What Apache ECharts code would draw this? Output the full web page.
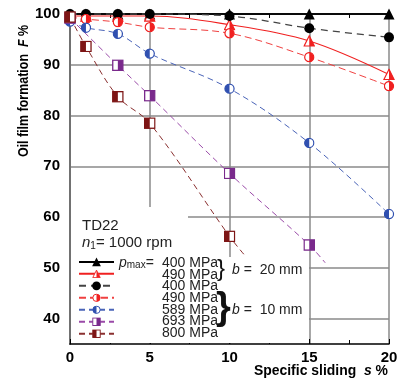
<!DOCTYPE html>
<html><head><meta charset="utf-8">
<script src="https://cdn.jsdelivr.net/npm/echarts@6/dist/echarts.min.js"></script>
<style>html,body{margin:0;padding:0;background:#fff}#c{width:403px;height:392px}</style>
</head><body><div id="c"></div>
<script>
// ---- data ----
const xTicks = [0, 5, 10, 15, 20];
const yTicks = [40, 50, 60, 70, 80, 90, 100];
const sAll = [0, 1, 3, 5, 10, 15, 20];
const blackTri400_b20 = [100, 100, 100, 100, 100, 100, 100];
const redTri490_b20 = [99.6, 99.6, 99.6, 99.6, 97.9, 94.7, 88.1];
const blackCirc400_b10 = [100, 100, 100, 100, 99.6, 97.2, 95.4];
const redCirc490_b10 = [99.4, 99.0, 98.4, 97.4, 96.2, 91.5, 85.8];
const blueCirc589_b10 = [98.5, 97.3, 96.1, 92.2, 85.3, 74.6, 60.6];
const sPurple = [0, 3, 5, 10, 15];
const purpleSq693_b10 = [99.2, 89.9, 83.9, 68.6, 54.5];
const purpleFitEnd = [16, 51.0];
const sDarkRed = [0, 1, 3, 5, 10];
const darkRedSq800_b10 = [99.4, 93.6, 83.7, 78.5, 56.2];
const darkRedFitEnd = [11, 52.3];
const legendLabels = ['400 MPa', '490 MPa', '400 MPa', '490 MPa', '589 MPa', '693 MPa', '800 MPa'];

const FONT = 'Liberation Sans';
function halfSym(shape, color, side) {
  let base, half;
  if (shape === 'circle') {
    base = `<circle cx="10" cy="10" r="8.3" fill="white" stroke="${color}" stroke-width="2.2"/>`;
    half = side === 'right'
      ? `<path d="M10 1.7 A8.3 8.3 0 0 1 10 18.3 Z" fill="${color}"/>`
      : `<path d="M10 1.7 A8.3 8.3 0 0 0 10 18.3 Z" fill="${color}"/>`;
  } else if (shape === 'rect') {
    base = `<rect x="1.5" y="1.5" width="17" height="17" fill="white" stroke="${color}" stroke-width="2.2"/>`;
    half = side === 'right'
      ? `<rect x="10" y="1.5" width="8.5" height="17" fill="${color}"/>`
      : `<rect x="1.5" y="1.5" width="8.5" height="17" fill="${color}"/>`;
  } else {
    base = `<polygon points="10,1.5 18.5,18.5 1.5,18.5" fill="white" stroke="${color}" stroke-width="2" stroke-linejoin="miter"/>`;
    half = `<polygon points="10,1.5 18.5,18.5 10,18.5" fill="${color}"/>`;
  }
  const svg = `<svg xmlns="http://www.w3.org/2000/svg" width="20" height="20" viewBox="0 0 20 20">${base}${half}</svg>`;
  return 'image://data:image/svg+xml;charset=utf-8,' + encodeURIComponent(svg);
}
function pairs(xs, ys) { return xs.map((x, i) => [x, ys[i]]); }

const RED = '#f02020', BLUE = '#3050b0', PURPLE = '#7a2a8c', DRED = '#7d1515';

const series = [
  { name: 's1', data: pairs(sAll, blackTri400_b20), symbol: 'triangle', symbolSize: 11,
    itemStyle: { color: '#000' }, lineStyle: { color: '#000', width: 1.6, type: 'solid' } },
  { name: 's2', data: pairs(sAll, redTri490_b20), symbol: halfSym('tri', RED, 'right'), symbolSize: 12,
    itemStyle: { color: RED }, lineStyle: { color: RED, width: 1.1, type: 'solid' } },
  { name: 's3', data: pairs(sAll, blackCirc400_b10), symbol: 'circle', symbolSize: 10,
    itemStyle: { color: '#000' }, lineStyle: { color: '#444', width: 1.3, type: [7, 5] } },
  { name: 's4', data: pairs(sAll, redCirc490_b10), symbol: halfSym('circle', RED, 'right'), symbolSize: 11,
    itemStyle: { color: RED }, lineStyle: { color: '#f04040', width: 1, type: [7, 4] } },
  { name: 's5', data: pairs(sAll, blueCirc589_b10), symbol: halfSym('circle', BLUE, 'left'), symbolSize: 11,
    itemStyle: { color: BLUE }, lineStyle: { color: '#4a64b8', width: 1, type: [6, 4] } },
  { name: 's6', data: pairs(sPurple, purpleSq693_b10).concat([{ value: purpleFitEnd, symbol: 'none' }]),
    symbol: halfSym('rect', PURPLE, 'right'), symbolSize: 12,
    itemStyle: { color: PURPLE }, lineStyle: { color: '#9a4aa8', width: 1, type: [6, 4] } },
  { name: 's7', data: pairs(sDarkRed, darkRedSq800_b10).concat([{ value: darkRedFitEnd, symbol: 'none' }]),
    symbol: halfSym('rect', DRED, 'left'), symbolSize: 12,
    itemStyle: { color: DRED }, lineStyle: { color: '#8a3030', width: 1, type: [6, 4] } }
].map(s => Object.assign({ type: 'line', smooth: 0.35, clip: false, showAllSymbol: true, z: 3 }, s));

const chart = echarts.init(document.getElementById('c'), null, { renderer: 'canvas' });
chart.setOption({
  animation: false,
  backgroundColor: '#fff',
  textStyle: { fontFamily: FONT },
  grid: { left: 70, right: 14, top: 14, bottom: 48 },
  xAxis: [
    { type: 'value', min: 0, max: 20, interval: 5, position: 'bottom',
      axisLine: { show: true, lineStyle: { color: '#000', width: 1.5 } },
      axisTick: { show: true, inside: true, length: 5, lineStyle: { color: '#000' } },
      minorTick: { show: true, splitNumber: 2, length: 4, lineStyle: { color: '#000' } },
      axisLabel: { margin: 6, fontFamily: FONT, fontWeight: 'bold', fontSize: 15, color: '#000',
        formatter: v => xTicks.includes(v) ? String(v) : '' },
      splitLine: { show: true, lineStyle: { color: '#8a8a8a', width: 1.5 } } },
    { type: 'value', min: 0, max: 20, interval: 5, position: 'top',
      axisLine: { show: true, lineStyle: { color: '#000', width: 1.5 } },
      axisTick: { show: true, inside: true, length: 4, lineStyle: { color: '#000' } },
      minorTick: { show: true, splitNumber: 2, length: 4, lineStyle: { color: '#000' } },
      axisLabel: { show: false }, splitLine: { show: false } }
  ],
  yAxis: [
    { type: 'value', min: 35, max: 100, interval: 5,
      axisLine: { show: true, lineStyle: { color: '#000', width: 1.5 } },
      axisTick: { show: false },
      axisLabel: { margin: 10, fontFamily: FONT, fontWeight: 'bold', fontSize: 15, color: '#000',
        formatter: v => yTicks.includes(v) ? String(v) : '' },
      splitLine: { show: true, lineStyle: { color: ['transparent', '#8a8a8a'], width: 1.5 } } },
    { type: 'value', min: 35, max: 100, interval: 5, position: 'right',
      axisLine: { show: true, lineStyle: { color: '#8a8a8a', width: 1.5 } },
      axisTick: { show: false }, axisLabel: { show: false }, splitLine: { show: false } }
  ],
  legend: {
    orient: 'vertical', left: 78, top: 257.5, itemWidth: 35, itemHeight: 11, itemGap: 3.17,
    padding: 0, selectedMode: false,
    lineStyle: { width: 2 },
    data: series.map(s => s.name),
    formatter: () => '',
    textStyle: { fontSize: 1, lineHeight: 1 }
  },
  graphic: [
    { type: 'rect', z: 1, shape: { x: 71, y: 207, width: 117, height: 136 }, style: { fill: '#fff' } },
    { type: 'rect', z: 1, shape: { x: 71, y: 257, width: 238, height: 86 }, style: { fill: '#fff' } },
    { type: 'text', z: 10, x: 218, y: 257.2, style: {
      text: legendLabels.join('\n'), align: 'right', verticalAlign: 'top',
      font: '14px "Liberation Sans"', lineHeight: 11.67, fill: '#222' } },
    { type: 'text', z: 10, x: 82, y: 226, style: { text: 'TD22', font: '15px "Liberation Sans"', fill: '#222', verticalAlign: 'middle' } },
    { type: 'text', z: 10, x: 82, y: 243, style: {
      text: '{i|n}{s|1}{n|= 1000 rpm}', verticalAlign: 'middle', fill: '#222',
      rich: { i: { fontFamily: FONT, fontStyle: 'italic', fontSize: 15, fill: '#222' },
              s: { fontFamily: FONT, fontSize: 10, fill: '#222', verticalAlign: 'bottom', padding: [6, 0, 0, 0] },
              n: { fontFamily: FONT, fontSize: 15, fill: '#222' } } } },
    { type: 'text', z: 10, x: 119, y: 263, style: {
      text: '{i|p}{s|max}{n|=}', verticalAlign: 'middle', fill: '#222',
      rich: { i: { fontFamily: FONT, fontStyle: 'italic', fontSize: 14, fill: '#222' },
              s: { fontFamily: FONT, fontSize: 10, fill: '#222', padding: [5, 0, 0, 0] },
              n: { fontFamily: FONT, fontSize: 14, fill: '#222' } } } },
    { type: 'text', z: 10, x: 217, y: 269, style: { text: '}', font: '24px "Liberation Sans"', fill: '#111', verticalAlign: 'middle' } },
    { type: 'text', z: 10, x: 216, y: 309, style: { text: '}', font: 'bold 38px "Liberation Sans"', fill: '#111', verticalAlign: 'middle' } },
    { type: 'text', z: 10, x: 232, y: 270, style: {
      text: '{i|b}{n| =  20 mm}', verticalAlign: 'middle',
      rich: { i: { fontFamily: FONT, fontStyle: 'italic', fontSize: 14, fill: '#222' }, n: { fontFamily: FONT, fontSize: 14, fill: '#222' } } } },
    { type: 'text', z: 10, x: 232, y: 310, style: {
      text: '{i|b}{n| =  10 mm}', verticalAlign: 'middle',
      rich: { i: { fontFamily: FONT, fontStyle: 'italic', fontSize: 14, fill: '#222' }, n: { fontFamily: FONT, fontSize: 14, fill: '#222' } } } },
    { type: 'text', z: 10, x: 388, y: 371, scaleX: 0.93, style: {
      text: '{n|Specific sliding  }{i|s}{n| %}', align: 'right', verticalAlign: 'middle',
      rich: { n: { fontFamily: FONT, fontWeight: 'bold', fontSize: 15, fill: '#000' },
              i: { fontFamily: FONT, fontWeight: 'bold', fontStyle: 'italic', fontSize: 15, fill: '#000' } } } },
    { type: 'text', z: 10, x: 24, y: 91, rotation: Math.PI / 2, scaleX: 0.83, style: {
      text: '{n|Oil film formation  }{i|F}{n| %}', align: 'center', verticalAlign: 'middle',
      rich: { n: { fontFamily: FONT, fontWeight: 'bold', fontSize: 15, fill: '#000' },
              i: { fontFamily: FONT, fontWeight: 'bold', fontStyle: 'italic', fontSize: 15, fill: '#000' } } } }
  ],
  series: series
});
</script></body></html>
